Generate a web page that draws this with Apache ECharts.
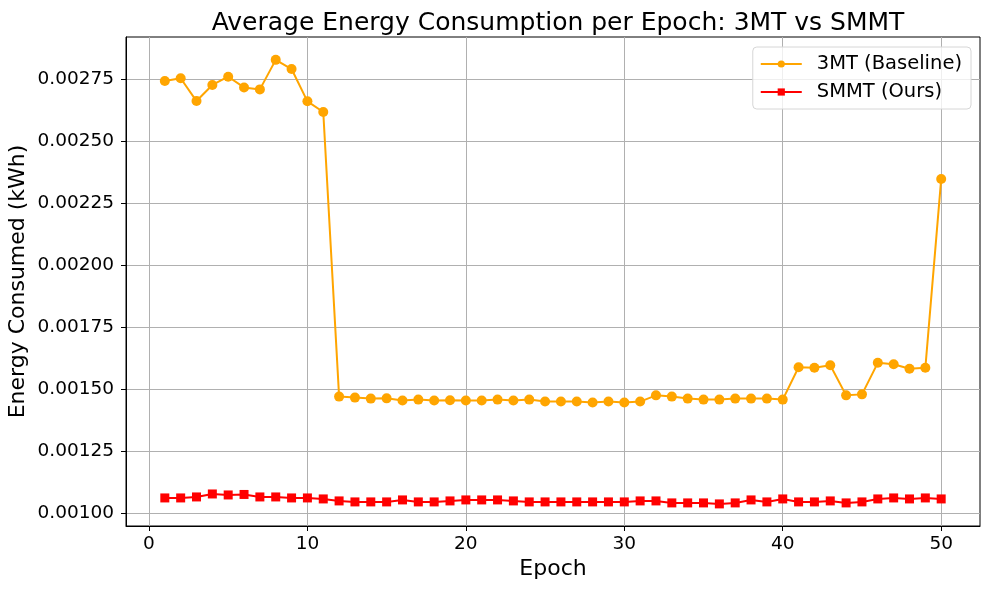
<!DOCTYPE html>
<html>
<head>
<meta charset="utf-8">
<script src="https://cdn.jsdelivr.net/npm/echarts@6/dist/echarts.min.js"></script>
<style>html,body{margin:0;padding:0;background:#fff}#c{width:989px;height:590px}</style>
</head>
<body>
<div id="c"></div>
<script>
const epochs = Array.from({length: 50}, (_, i) => i + 1);
const baseline3MT = [
  0.002742, 0.002753, 0.002661, 0.002726, 0.002759, 0.002716, 0.002708, 0.002827, 0.002790, 0.002660,
  0.002617, 0.001471, 0.001467, 0.001463, 0.001464, 0.001455, 0.001459, 0.001455, 0.001456, 0.001455,
  0.001455, 0.001459, 0.001455, 0.001459, 0.001451, 0.001451, 0.001451, 0.001447, 0.001451, 0.001447,
  0.001451, 0.001476, 0.001471, 0.001463, 0.001459, 0.001459, 0.001463, 0.001463, 0.001463, 0.001459,
  0.001589, 0.001587, 0.001597, 0.001476, 0.001480, 0.001607, 0.001601, 0.001583, 0.001587, 0.002347
];
const smmtOurs = [
  0.001063, 0.001063, 0.001067, 0.001079, 0.001075, 0.001077, 0.001067, 0.001067, 0.001063, 0.001063,
  0.001059, 0.001051, 0.001047, 0.001047, 0.001047, 0.001055, 0.001047, 0.001047, 0.001051, 0.001055,
  0.001055, 0.001055, 0.001051, 0.001047, 0.001047, 0.001047, 0.001047, 0.001047, 0.001047, 0.001047,
  0.001051, 0.001051, 0.001043, 0.001043, 0.001043, 0.001039, 0.001043, 0.001055, 0.001047, 0.001059,
  0.001047, 0.001047, 0.001051, 0.001043, 0.001047, 0.001059, 0.001063, 0.001059, 0.001063, 0.001059
];
const xTicks = [0, 10, 20, 30, 40, 50];
const yTicks = [0.00100, 0.00125, 0.00150, 0.00175, 0.00200, 0.00225, 0.00250, 0.00275];

const chart = echarts.init(document.getElementById('c'));
const font = 'DejaVu Sans';
chart.setOption({
  backgroundColor: '#fff',
  animation: false,
  title: {
    text: 'Average Energy Consumption per Epoch: 3MT vs SMMT',
    left: 553, top: 6, textAlign: 'center',
    textStyle: {fontFamily: font, fontSize: 25, fontWeight: 'normal', color: '#000'}
  },
  legend: {
    orient: 'vertical', right: 18, top: 47,
    borderColor: '#d6d6d6', borderWidth: 1, borderRadius: 4,
    padding: [7, 9, 7, 7], itemGap: 8, itemWidth: 41, itemHeight: 9,
    backgroundColor: 'rgba(255,255,255,0.8)',
    textStyle: {fontFamily: font, fontSize: 19.5, color: '#000', padding: [0, 0, 0, 10]},
    data: ['3MT (Baseline)', 'SMMT (Ours)']
  },
  grid: {left: 126, right: 9, top: 37, bottom: 64, show: true, borderColor: '#000', borderWidth: 1,
    backgroundColor: 'transparent', outerBoundsMode: 'none', containLabel: false},
  xAxis: {
    type: 'value', min: -1.45, max: 52.45,
    name: 'Epoch', nameLocation: 'middle', nameGap: 32, nameMoveOverlap: false,
    nameTextStyle: {fontFamily: font, fontSize: 22, color: '#000'},
    axisLine: {show: true, onZero: false, lineStyle: {color: '#000', width: 1}},
    axisTick: {show: true, customValues: xTicks, length: 5, lineStyle: {color: '#000'}},
    axisLabel: {customValues: xTicks, fontFamily: font, fontSize: 18.5, color: '#000', margin: 9},
    splitLine: {show: true, lineStyle: {color: '#b0b0b0', width: 1}}
  },
  yAxis: {
    type: 'value', min: 0.00095, max: 0.002919,
    name: 'Energy Consumed (kWh)', nameLocation: 'middle', nameGap: 97, nameRotate: 90, nameMoveOverlap: false,
    nameTextStyle: {fontFamily: font, fontSize: 22, color: '#000'},
    axisLine: {show: true, onZero: false, lineStyle: {color: '#000', width: 1}},
    axisTick: {show: true, customValues: yTicks, length: 5, lineStyle: {color: '#000'}},
    axisLabel: {customValues: yTicks, fontFamily: font, fontSize: 18.5, color: '#000', margin: 12,
      formatter: v => v.toFixed(5)},
    splitLine: {show: true, lineStyle: {color: '#b0b0b0', width: 1}}
  },
  series: [
    {
      name: '3MT (Baseline)', type: 'line',
      data: epochs.map((e, i) => [e, baseline3MT[i]]),
      symbol: 'circle', symbolSize: 10,
      itemStyle: {color: '#FFA500'}, lineStyle: {color: '#FFA500', width: 2},
      z: 3
    },
    {
      name: 'SMMT (Ours)', type: 'line',
      data: epochs.map((e, i) => [e, smmtOurs[i]]),
      symbol: 'rect', symbolSize: 9,
      itemStyle: {color: '#FF0000'}, lineStyle: {color: '#FF0000', width: 2},
      z: 3
    }
  ]
});
</script>
</body>
</html>
